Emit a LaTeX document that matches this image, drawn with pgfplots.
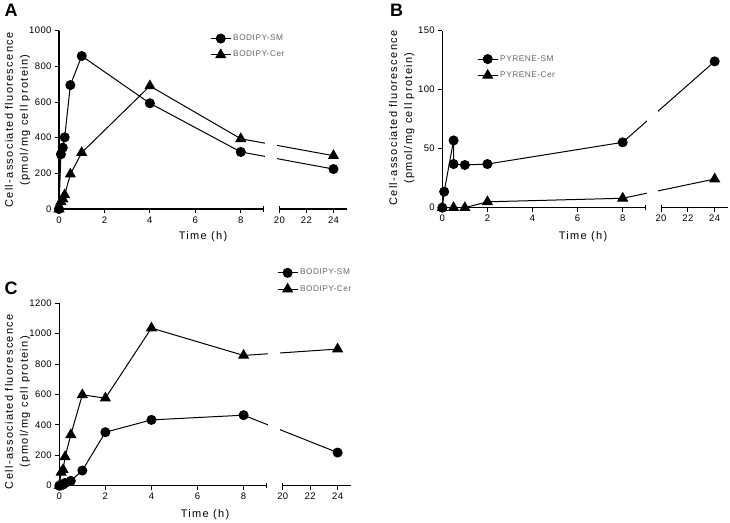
\documentclass[border=0pt]{standalone}
\usepackage{fontspec}
\setmainfont{Liberation Sans}
\usepackage{pgfplots}
\pgfplotsset{compat=1.18}

\newcommand{\lab}{\fontsize{11}{15}\selectfont\addfontfeature{LetterSpace=12}}
\pgfplotsset{
  brk/.style={
    scale only axis,
    clip=false,
    x coord trafo/.code={\pgfmathparse{##1>15 ? 9.7+(##1-20)*0.595 : ##1}},
    xmin=0, xmax=25, ymin=0,
    axis x line=bottom, axis y line=left,
    axis line style={-},
    x axis line style={draw=none},
    y axis line style={line width=1.1pt},
    xtick={0,2,4,6,8,20,22,24},
    xticklabels={0,2,4,6,8,20,22,24},
    tick align=outside,
    major tick length=4pt,
    tick style={black, line width=1pt},
    tick label style={font=\fontsize{9.5}{10}\selectfont\addfontfeature{LetterSpace=4}},
    /pgf/number format/assume math mode=true,
    /pgf/number format/1000 sep={},
    legend style={draw=none, fill=none, font=\fontsize{8.3}{9}\selectfont\addfontfeature{LetterSpace=6}, text=black!60, row sep=5pt},
    legend cell align=left,
    legend image code/.code={\draw[mark repeat=2,mark phase=2,##1] plot coordinates {(0pt,0pt) (10pt,0pt) (20pt,0pt)};},
  },
  sm/.style={black, line width=1pt, mark=*, mark size=4.5pt},
  cer/.style={black, line width=1pt, mark=triangle*, mark size=5.5pt},
}

\begin{document}
\begin{tikzpicture}
\path[use as bounding box] (0,0) rectangle (730pt,-522pt);

% ---------- Panel A ----------
\begin{axis}[brk, at={(59pt,-209pt)}, anchor=south west,
  width=288pt, height=178.3pt, ymax=1000, ytick={0,200,400,600,800,1000},
  legend style={at={(0.514,1.0)}, anchor=north west}]
\draw[line width=1.1pt] (axis cs:0,0) -- (axis cs:9,0);
\draw[line width=1.1pt] (axis cs:20,0) -- (axis cs:25,0);
\draw[line width=1pt] (axis cs:9,0) ++(0,-2.7pt) -- ++(0,5.4pt);
\draw[line width=1pt] (axis cs:20,0) ++(0,-4pt) -- ++(0,6.7pt);
\addplot[sm] coordinates {(0,0) (0.083,307) (0.167,344) (0.25,402) (0.5,695) (1,858) (4,593) (8,320) (24,224)};
\addlegendentry{BODIPY-SM}
\addplot[cer] coordinates {(0,0) (0.083,41) (0.167,56) (0.25,79) (0.5,195) (1,316) (4,690) (8,394) (24,299)};
\addlegendentry{BODIPY-Cer}
\fill[white] (axis cs:9.08,0) ++(0,1.5pt) rectangle (axis cs:19.8,780);
\end{axis}

% ---------- Panel B ----------
\begin{axis}[brk, at={(442.3pt,-207.7pt)}, anchor=south west,
  width=285.8pt, height=177pt, ymax=150, ytick={0,50,100,150},
  legend style={at={(0.111,0.884)}, anchor=north west}]
\draw[line width=1.1pt] (axis cs:0,0) -- (axis cs:9,0);
\draw[line width=1.1pt] (axis cs:20,0) -- (axis cs:25,0);
\draw[line width=1pt] (axis cs:9,0) ++(0,-2.7pt) -- ++(0,5.4pt);
\draw[line width=1pt] (axis cs:20,0) ++(0,-4pt) -- ++(0,6.7pt);
\addplot[sm] coordinates {(0,0) (0.083,13.6) (0.5,57) (0.5,37) (1,36.2) (2,37) (8,55.4) (24,124)};
\addlegendentry{PYRENE-SM}
\addplot[cer] coordinates {(0,0) (0.5,0) (1,0) (2,5) (8,8) (24,24.3)};
\addlegendentry{PYRENE-Cer}
\fill[white] (axis cs:9.08,0) ++(0,1.5pt) rectangle (axis cs:19.8,150);
\end{axis}

% ---------- Panel C ----------
\begin{axis}[brk, at={(59.3pt,-485.7pt)}, anchor=south west,
  width=292pt, height=182.4pt, ymax=1200, ytick={0,200,400,600,800,1000,1200},
  legend style={at={(0.735,1.21)}, anchor=north west}]
\draw[line width=1.1pt] (axis cs:0,0) -- (axis cs:9,0);
\draw[line width=1.1pt] (axis cs:20,0) -- (axis cs:25,0);
\draw[line width=1pt] (axis cs:9,0) ++(0,-2.7pt) -- ++(0,5.4pt);
\draw[line width=1pt] (axis cs:20,0) ++(0,-4pt) -- ++(0,6.7pt);
\addplot[sm] coordinates {(0,0) (0.083,3) (0.167,8) (0.25,18) (0.5,32) (1,100) (2,352) (4,433) (8,464) (24,218)};
\addlegendentry{BODIPY-SM}
\addplot[cer] coordinates {(0,0) (0.083,88) (0.167,105) (0.25,190) (0.5,335) (1,598) (2,576) (4,1037) (8,857) (24,899)};
\addlegendentry{BODIPY-Cer}
\fill[white] (axis cs:9.08,0) ++(0,1.5pt) rectangle (axis cs:19.8,1200);
\end{axis}

% ---------- labels ----------
\node[rotate=90, align=center, font=\lab] at (17.5pt,-120pt) {Cell-associated fluorescence\\(pmol/mg cell protein)};
\node[rotate=90, align=center, font=\lab] at (401.7pt,-118pt) {Cell-associated fluorescence\\(pmol/mg cell protein)};
\node[rotate=90, align=center, font=\lab] at (17.5pt,-401.7pt) {Cell-associated fluorescence\\(pmol/mg cell protein)};
\node[font=\lab] at (203pt,-237pt) {Time (h)};
\node[font=\lab] at (583pt,-237pt) {Time (h)};
\node[font=\lab] at (205pt,-515pt) {Time (h)};
\node[font=\fontsize{18}{20}\selectfont\bfseries] at (11pt,-10.5pt) {A};
\node[font=\fontsize{18}{20}\selectfont\bfseries] at (396.7pt,-10.5pt) {B};
\node[font=\fontsize{18}{20}\selectfont\bfseries] at (11pt,-288.3pt) {C};
\end{tikzpicture}
\end{document}
